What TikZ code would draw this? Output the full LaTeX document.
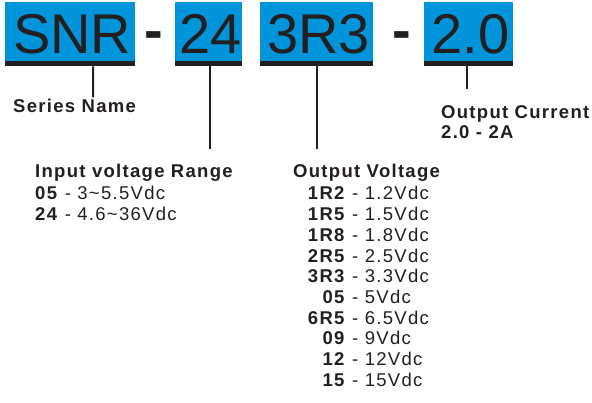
\documentclass[tikz,border=0pt]{standalone}
\usepackage{fontspec}
\setmainfont{Liberation Sans}
\newfontfamily\lblfont[LetterSpace=7]{Liberation Sans}
\usetikzlibrary{calc}
\definecolor{codeblue}{RGB}{0,149,218}
\definecolor{ink}{RGB}{35,31,32}
\begin{document}
\begin{tikzpicture}[x=1pt,y=-1pt,
  codebox/.style={fill=codeblue, draw=none, inner sep=0pt, anchor=north west, minimum height=59pt},
  bigtxt/.style={font=\fontsize{56}{60}\selectfont, text=ink, inner sep=0pt, anchor=base},
  bigdash/.style={font=\bfseries\fontsize{56}{60}\selectfont, text=ink, inner sep=0pt, anchor=base},
  bar/.style={line width=5pt, draw=ink},
  conn/.style={line width=2pt, draw=ink},
  lbl/.style={font=\lblfont\fontsize{18.5}{20}\selectfont, text=ink, inner sep=0pt, anchor=base west},
  lblb/.style={font=\lblfont\bfseries\fontsize{18.5}{20}\selectfont, text=ink, inner sep=0pt, anchor=base west},
]
\useasboundingbox (0,0) rectangle (592,403);
% code boxes
\node[codebox, minimum width=130pt] (snr) at (5,2) {};
\node[codebox, minimum width=67pt] (vin) at (175,2) {};
\node[codebox, minimum width=113pt] (vout) at (260,2) {};
\node[codebox, minimum width=89pt] (cur) at (424,2) {};
\node[bigtxt] (snrt) at ($(snr.south)+(2,-8)$) {SNR};
\node[bigtxt] (vint) at ($(vin.south)+(2,-8)$) {24};
\node[bigtxt] (voutt) at ($(vout.south)+(2,-8)$) {3R3};
\node[bigtxt] (curt) at ($(cur.south)+(2,-8)$) {2.0};
\node[bigdash] (d1) at (153.5,50) {-};
\node[bigdash] (d2) at (402,50) {-};
% underline bars
\foreach \b in {snr,vin,vout,cur}{
  \draw[bar] ([yshift=-2.5pt]\b.south west) -- ([yshift=-2.5pt]\b.south east);
}
% labels
\node[lblb] (series) at (13,113) {Series Name};
\node[lblb] (curl) at (441,119) {Output Current};
\node[lblb] (curv) at (441,139) {2.0 - 2A};
\node[lblb] (inl) at (35,178) {Input voltage Range};
\node[lbl] (in1) at (35,199.5) {\textbf{05} - 3\textasciitilde 5.5Vdc};
\node[lbl] (in2) at (35,221) {\textbf{24} - 4.6\textasciitilde 36Vdc};
\node[lblb] (outl) at (293,178) {Output Voltage};
\foreach \c/\v [count=\i from 0] in {1R2/1.2Vdc,1R5/1.5Vdc,1R8/1.8Vdc,2R5/2.5Vdc,3R3/3.3Vdc,05/5Vdc,6R5/6.5Vdc,09/9Vdc,12/12Vdc,15/15Vdc}{
  \node[lbl] (o\i) at (300,200+20.67*\i) {\makebox[45.6pt][r]{\textbf{\c}} - \v};
}
% connectors
\draw[conn] ([xshift=23pt,yshift=-5pt]snr.south) -- ($(series.north west)+(80,-2)$);
\draw[conn] ([xshift=1pt,yshift=-5pt]vin.south) -- ++(0,83);
\draw[conn] ([xshift=0.5pt,yshift=-5pt]vout.south) -- ++(0,83);
\draw[conn] ([xshift=-1.5pt,yshift=-5pt]cur.south) -- ++(0,23);
\end{tikzpicture}
\end{document}
